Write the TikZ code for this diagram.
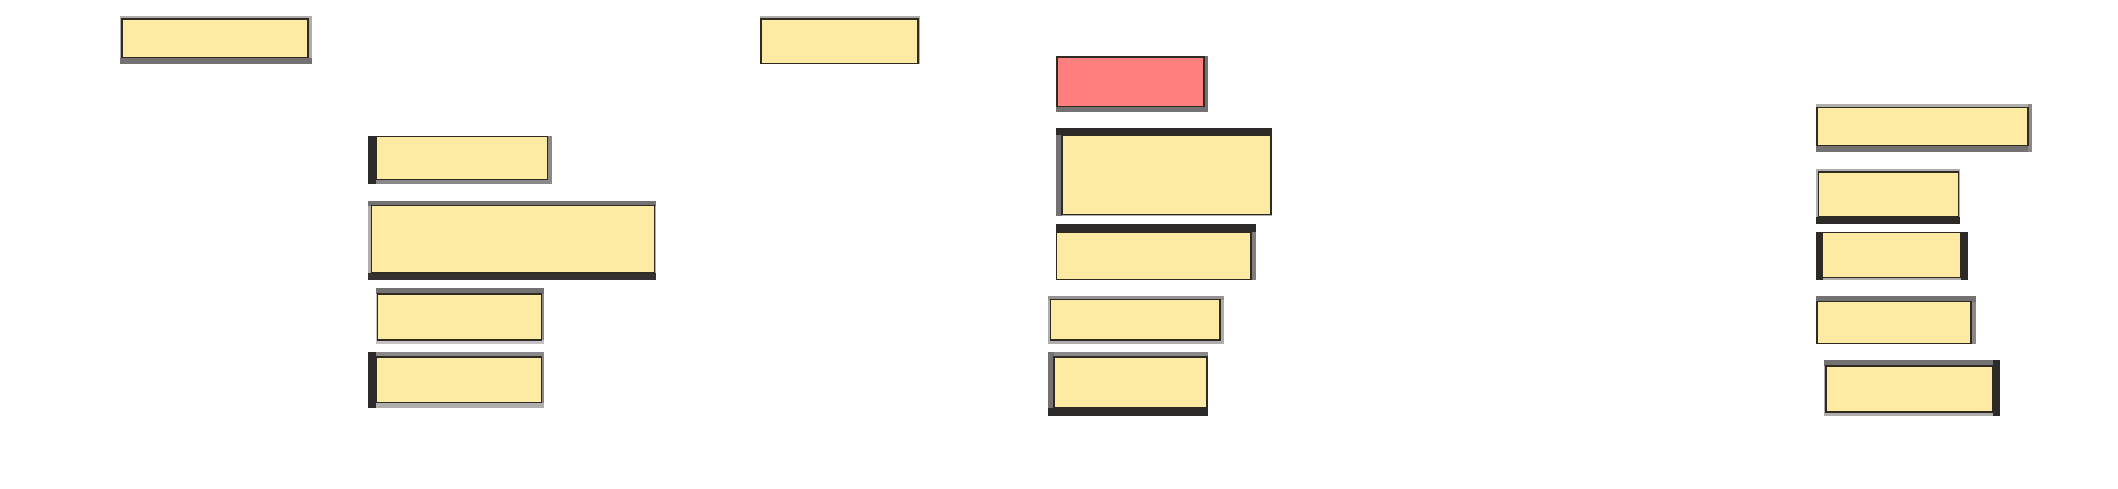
\documentclass[tikz,border=0pt]{standalone}
\definecolor{yfill}{HTML}{FEEBA3}
\definecolor{rfill}{HTML}{FF7E7E}
\definecolor{edge}{HTML}{2F2B22}
\definecolor{lg}{HTML}{B0ADAD}
\definecolor{llg}{HTML}{C4C2C2}
\definecolor{mg}{HTML}{8A8888}
\definecolor{gg}{HTML}{737171}
\definecolor{dg}{HTML}{2C2A28}
\newcommand\bx[6]{%
  \node[#6, anchor=north west, minimum width={(#4-#2)*1pt}, minimum height={(#5-#3)*1pt}] (#1) at (#2,#3) {};}
\begin{document}
\begin{tikzpicture}[x=1pt,y=-1pt,
  ybox/.style={draw=edge, line width=1.3pt, fill=yfill, inner sep=0pt, outer sep=0pt},
  rbox/.style={ybox, fill=rfill}]
\useasboundingbox (0,0) rectangle (2118,488);
\fill[white] (0,0) rectangle (2118,488);
% A
\fill[lg] (120,16) rectangle (312,64);
\fill[gg] (120,57.5) rectangle (312,64);
\bx{A}{122}{19}{308}{57.5}{ybox}
% B
\fill[mg] (368,136) rectangle (552,184);
\fill[dg] (368,136) rectangle (376,184);
\bx{B}{376}{136.5}{547.5}{179.5}{ybox}
% C
\fill[lg] (368,200.5) rectangle (656,280);
\fill[gg] (368,200.5) rectangle (656,205.5);
\fill[dg!90!gray] (368,273) rectangle (656,280);
\bx{C}{371.5}{205.5}{654.5}{273}{ybox}
% D
\fill[llg] (376,288) rectangle (544,344);
\fill[gg] (376,288) rectangle (544,294);
\fill[mg] (541.5,294) rectangle (544,340);
\bx{D}{377.5}{294}{541.5}{340}{ybox}
% E
\fill[lg] (368,352) rectangle (544,408);
\fill[mg] (368,352) rectangle (544,357);
\fill[mg] (541.5,352) rectangle (544,402.5);
\fill[dg] (368,352) rectangle (376,408);
\bx{E}{376}{357}{541.5}{402.5}{ybox}
% F
\fill[lg] (760,16) rectangle (920,64);
\bx{F}{761}{19}{918}{63.5}{ybox}
% G
\fill[gg] (1056,56) rectangle (1208,112);
\bx{G}{1057}{57}{1204}{106.5}{rbox}
% H
\fill[gg] (1056,128) rectangle (1272,216);
\fill[lg] (1062,214.5) rectangle (1272,216);
\fill[dg] (1056,128) rectangle (1272,135);
\bx{H}{1062}{135}{1271}{214.5}{ybox}
% I
\fill[gg!80!lg] (1056,224) rectangle (1256,280);
\fill[dg] (1056,224) rectangle (1256,232);
\bx{I}{1056.5}{232}{1251}{279.5}{ybox}
% J
\fill[lg] (1048,296) rectangle (1224,344);
\fill[mg!70!lg] (1048,296) rectangle (1224,299.5);
\bx{J}{1050.5}{299.5}{1220}{340}{ybox}
% K
\fill[mg] (1048,352) rectangle (1208,416);
\fill[gg] (1048,352) rectangle (1054,416);
\fill[dg] (1048,407.5) rectangle (1208,416);
\bx{K}{1054}{357}{1207}{407.5}{ybox}
% L
\fill[lg] (1816,104) rectangle (2032,152);
\fill[gg] (1816,145.5) rectangle (2032,152);
\fill[mg] (2028,104) rectangle (2032,152);
\bx{L}{1817}{107.5}{2028}{145.5}{ybox}
% M
\fill[lg] (1816,168.5) rectangle (1960,224);
\fill[dg] (1816,217) rectangle (1960,224);
\bx{M}{1818.5}{172}{1958.5}{217}{ybox}
% N
\fill[lg] (1816,232) rectangle (1968,280);
\fill[dg] (1816,232) rectangle (1822.5,280);
\fill[dg] (1961,232) rectangle (1968,280);
\bx{N}{1822.5}{232.5}{1961}{277.5}{ybox}
% O
\fill[mg] (1816,296) rectangle (1976,344);
\fill[gg] (1816,296) rectangle (1976,301.5);
\bx{O}{1817}{301.5}{1971}{343.5}{ybox}
% P
\fill[lg] (1824,360) rectangle (2000,416);
\fill[gg] (1824,360) rectangle (2000,366);
\fill[dg] (1992.5,360) rectangle (2000,416);
\bx{P}{1826}{366}{1992.5}{412}{ybox}
\end{tikzpicture}
\end{document}
